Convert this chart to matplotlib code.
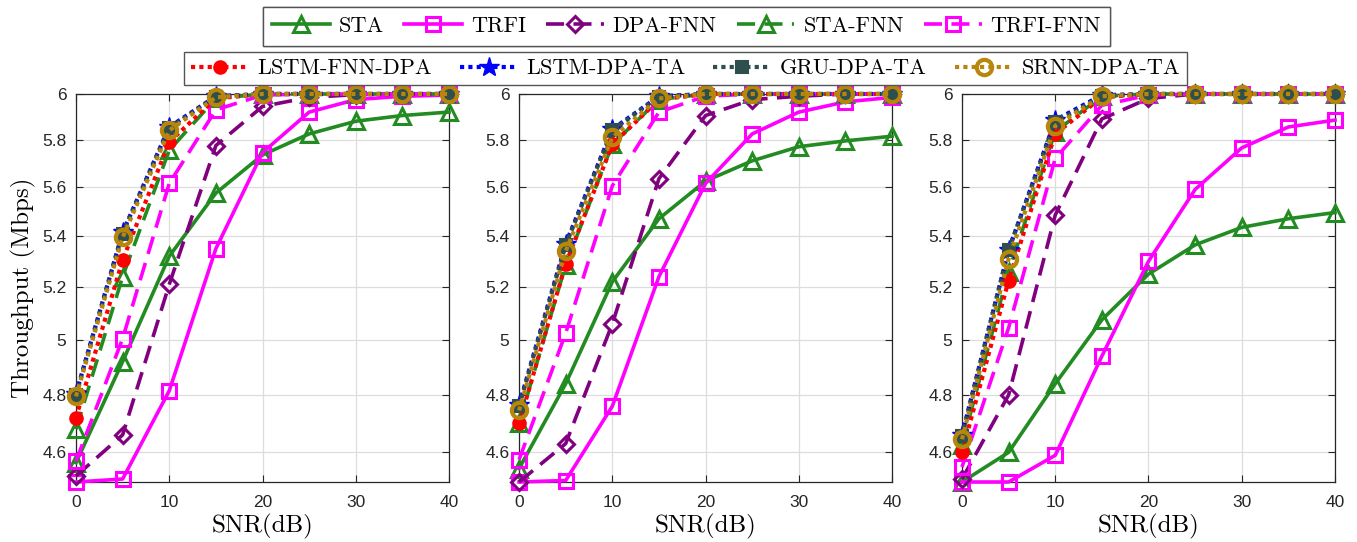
import matplotlib
matplotlib.use("Agg")
import matplotlib.pyplot as plt
from matplotlib.ticker import FixedLocator, FixedFormatter, NullLocator

snr = [0, 5, 10, 15, 20, 25, 30, 35, 40]

series_names = ["STA", "TRFI", "DPA-FNN", "STA-FNN", "TRFI-FNN",
                "LSTM-FNN-DPA", "LSTM-DPA-TA", "GRU-DPA-TA", "SRNN-DPA-TA"]

# Panel 1
p1_sta = [4.565, 4.92, 5.32, 5.575, 5.735, 5.825, 5.88, 5.905, 5.92]
p1_trfi = [4.50, 4.51, 4.815, 5.35, 5.745, 5.92, 5.975, 5.99, 5.995]
p1_dpa_fnn = [4.52, 4.66, 5.21, 5.775, 5.945, 5.985, 5.997, 6.0, 6.0]
p1_sta_fnn = [4.68, 5.24, 5.755, 5.98, 6.0, 6.0, 6.0, 6.0, 6.0]
p1_trfi_fnn = [4.57, 5.005, 5.615, 5.93, 5.995, 6.0, 6.0, 6.0, 6.0]
p1_lstm_fnn_dpa = [4.72, 5.305, 5.79, 5.98, 6.0, 6.0, 6.0, 6.0, 6.0]
p1_lstm_dpa_ta = [4.805, 5.415, 5.855, 5.99, 6.0, 6.0, 6.0, 6.0, 6.0]
p1_gru_dpa_ta = [4.80, 5.41, 5.85, 5.988, 6.0, 6.0, 6.0, 6.0, 6.0]
p1_srnn_dpa_ta = [4.795, 5.395, 5.84, 5.985, 6.0, 6.0, 6.0, 6.0, 6.0]

# Panel 2
p2_sta = [4.545, 4.84, 5.22, 5.47, 5.625, 5.71, 5.77, 5.795, 5.815]
p2_trfi = [4.50, 4.505, 4.76, 5.24, 5.615, 5.825, 5.92, 5.965, 5.985]
p2_dpa_fnn = [4.50, 4.63, 5.06, 5.635, 5.905, 5.975, 5.99, 6.0, 6.0]
p2_sta_fnn = [4.70, 5.285, 5.78, 5.975, 6.0, 6.0, 6.0, 6.0, 6.0]
p2_trfi_fnn = [4.575, 5.025, 5.605, 5.92, 5.99, 6.0, 6.0, 6.0, 6.0]
p2_lstm_fnn_dpa = [4.70, 5.29, 5.78, 5.975, 6.0, 6.0, 6.0, 6.0, 6.0]
p2_lstm_dpa_ta = [4.765, 5.37, 5.845, 5.99, 6.0, 6.0, 6.0, 6.0, 6.0]
p2_gru_dpa_ta = [4.76, 5.365, 5.84, 5.988, 6.0, 6.0, 6.0, 6.0, 6.0]
p2_srnn_dpa_ta = [4.745, 5.34, 5.81, 5.98, 6.0, 6.0, 6.0, 6.0, 6.0]

# Panel 3
p3_sta = [4.50, 4.60, 4.84, 5.075, 5.25, 5.365, 5.435, 5.47, 5.495]
p3_trfi = [4.50, 4.50, 4.59, 4.94, 5.30, 5.59, 5.765, 5.855, 5.885]
p3_dpa_fnn = [4.51, 4.80, 5.485, 5.89, 5.98, 6.0, 6.0, 6.0, 6.0]
p3_sta_fnn = [4.625, 5.26, 5.835, 5.99, 6.0, 6.0, 6.0, 6.0, 6.0]
p3_trfi_fnn = [4.55, 5.045, 5.72, 5.95, 5.995, 6.0, 6.0, 6.0, 6.0]
p3_lstm_fnn_dpa = [4.60, 5.225, 5.825, 5.985, 6.0, 6.0, 6.0, 6.0, 6.0]
p3_lstm_dpa_ta = [4.66, 5.345, 5.885, 5.995, 6.0, 6.0, 6.0, 6.0, 6.0]
p3_gru_dpa_ta = [4.655, 5.345, 5.875, 5.99, 6.0, 6.0, 6.0, 6.0, 6.0]
p3_srnn_dpa_ta = [4.645, 5.31, 5.86, 5.99, 6.0, 6.0, 6.0, 6.0, 6.0]

panels = [
    [p1_sta, p1_trfi, p1_dpa_fnn, p1_sta_fnn, p1_trfi_fnn, p1_lstm_fnn_dpa, p1_lstm_dpa_ta, p1_gru_dpa_ta, p1_srnn_dpa_ta],
    [p2_sta, p2_trfi, p2_dpa_fnn, p2_sta_fnn, p2_trfi_fnn, p2_lstm_fnn_dpa, p2_lstm_dpa_ta, p2_gru_dpa_ta, p2_srnn_dpa_ta],
    [p3_sta, p3_trfi, p3_dpa_fnn, p3_sta_fnn, p3_trfi_fnn, p3_lstm_fnn_dpa, p3_lstm_dpa_ta, p3_gru_dpa_ta, p3_srnn_dpa_ta],
]

yticks = [4.6, 4.8, 5.0, 5.2, 5.4, 5.6, 5.8, 6.0]
ytick_labels = ["4.6", "4.8", "5", "5.2", "5.4", "5.6", "5.8", "6"]
xticks = [0, 10, 20, 30, 40]

dashed = (0, (5.0, 2.6))
dotted = (0, (1.0, 1.0))
styles = [
    dict(color="#228B22", ls="-", lw=2.6, marker="^", ms=11, mfc="none", mew=2.2),
    dict(color="#FF00FF", ls="-", lw=2.6, marker="s", ms=10, mfc="none", mew=2.2),
    dict(color="#800080", ls=dashed, lw=2.6, marker="D", ms=8.5, mfc="none", mew=2.2),
    dict(color="#228B22", ls=dashed, lw=2.6, marker="^", ms=11, mfc="none", mew=2.2),
    dict(color="#FF00FF", ls=dashed, lw=2.6, marker="s", ms=10, mfc="none", mew=2.2),
    dict(color="#FF0000", ls=dotted, lw=3.0, marker="o", ms=9, mfc="#FF0000", mew=1.5),
    dict(color="#0000FF", ls=dotted, lw=3.0, marker="*", ms=15, mfc="#0000FF", mew=1.0),
    dict(color="#2F4F4F", ls=dotted, lw=3.0, marker="s", ms=9, mfc="#2F4F4F", mew=1.5),
    dict(color="#B8860B", ls=dotted, lw=3.0, marker="o", ms=11, mfc="none", mew=3.0),
]

fig = plt.figure(figsize=(13.57, 5.42), dpi=100)
lefts = [0.0560, 0.3825, 0.7089]
bottom, width, height = 0.1107, 0.2749, 0.7159

serif = "cmr10"
tick_font = "Liberation Sans"

handles = []
for pi, (left, data) in enumerate(zip(lefts, panels)):
    ax = fig.add_axes([left, bottom, width, height])
    for si, (name, vals, st) in enumerate(zip(series_names, data, styles)):
        ln, = ax.plot(snr, vals, label=name, color=st["color"], linestyle=st["ls"],
                      linewidth=st["lw"], marker=st["marker"], markersize=st["ms"],
                      markerfacecolor=st["mfc"], markeredgecolor=st["color"],
                      markeredgewidth=st["mew"], clip_on=False, zorder=3 + si)
        if pi == 0:
            handles.append(ln)
    ax.set_yscale("log")
    ax.set_ylim(4.5, 6.0)
    ax.set_xlim(0, 40)
    ax.yaxis.set_major_locator(FixedLocator(yticks))
    ax.yaxis.set_major_formatter(FixedFormatter(ytick_labels))
    ax.yaxis.set_minor_locator(NullLocator())
    ax.set_xticks(xticks)
    ax.grid(True, color="#DDDDDD", linewidth=0.9)
    ax.set_axisbelow(True)
    ax.tick_params(direction="in", top=True, right=True, length=5, width=0.8,
                   labelsize=12.5, colors="#262626")
    ax.tick_params(axis="x", pad=9)
    ax.tick_params(axis="y", pad=7)
    for lab in ax.get_xticklabels() + ax.get_yticklabels():
        lab.set_fontfamily(tick_font)
    for sp in ax.spines.values():
        sp.set_linewidth(0.9)
        sp.set_color("#262626")
    ax.set_xlabel("SNR(dB)", fontfamily=serif, fontsize=18, labelpad=3)
    if pi == 0:
        ax.set_ylabel("Throughput (Mbps)", fontfamily=serif, fontsize=18, labelpad=4)

leg_kw = dict(loc="center", frameon=True, fancybox=False, framealpha=1,
              edgecolor="#555555", prop={"family": serif, "size": 16},
              handlelength=2.6, handletextpad=0.4,
              borderaxespad=0)
leg1 = fig.legend(handles[:5], series_names[:5], ncol=5, columnspacing=0.9,
                  borderpad=0.42,
                  bbox_to_anchor=(0.506, 1 - 26.5 / 542), **leg_kw)
leg2 = fig.legend(handles[5:], series_names[5:], ncol=4, columnspacing=1.25,
                  borderpad=0.32,
                  bbox_to_anchor=(0.505, 1 - 68.5 / 542), **leg_kw)
fig.add_artist(leg1)
for lg in (leg1, leg2):
    lg.get_frame().set_linewidth(1.0)

fig.savefig("out.png", dpi=100)
